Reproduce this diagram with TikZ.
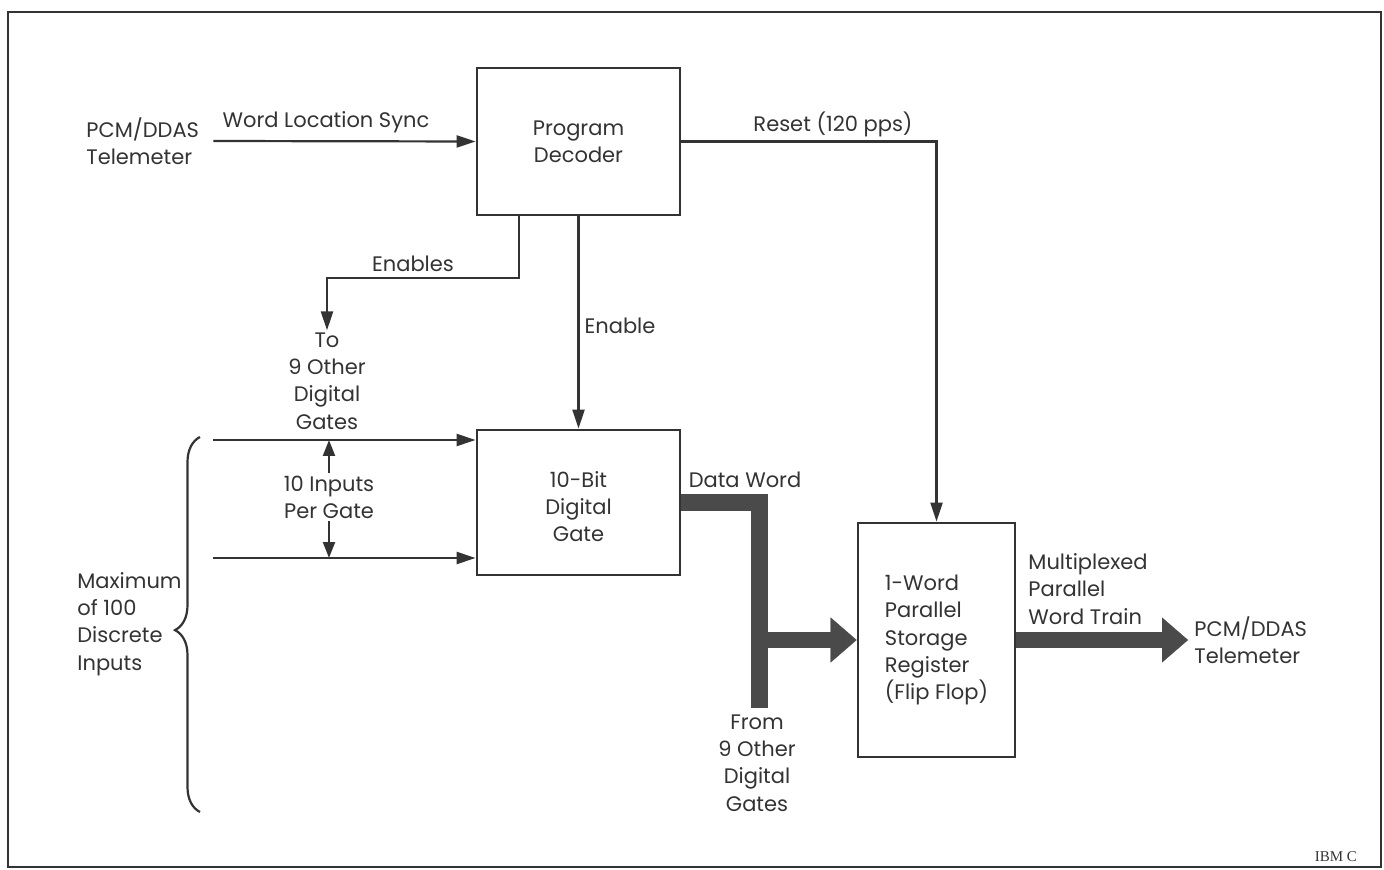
\documentclass[tikz,border=0pt]{standalone}
\usepackage{fontspec}
\setmainfont{Poppins}
\newfontfamily\ibmfont{Liberation Serif}
\usepackage{tikz}
\usetikzlibrary{arrows.meta,positioning,decorations.pathreplacing}
\definecolor{InkGray}{HTML}{333333}
\definecolor{BusGray}{HTML}{4A4A4A}
\newcommand{\diagfont}{\fontsize{10.5}{13.6}\selectfont}
\tikzset{
  blockbox/.style={draw=InkGray,line width=1.4pt,align=center,inner sep=2pt,font=\diagfont,text=InkGray},
  lbl/.style={align=center,inner sep=1pt,font=\diagfont,text=InkGray},
  sigarrow/.style={-{Triangle[length=9.5pt,width=6pt]},line width=1.1pt,draw=InkGray},
  sigline/.style={line width=1.1pt,draw=InkGray},
  dimarrow/.style={-{Triangle[length=8pt,width=6pt]},line width=1.1pt,draw=InkGray},
  busline/.style={line width=8.5pt,draw=BusGray,line cap=butt,line join=miter},
  busarrow/.style={-{Triangle[length=13pt,width=22.5pt,line width=0.1pt]},line width=8pt,draw=BusGray,line cap=butt}
}

\begin{document}
\begin{tikzpicture}[x=0.5pt,y=-0.5pt]
\useasboundingbox (0,0) rectangle (1384,870);
\draw[line width=1.4pt,draw=InkGray] (8,12) rectangle (1381,867);
% blocks
\node[blockbox,minimum width=101.5pt,minimum height=73.5pt] (dec) at (578.5,141.5) {Program\\Decoder};
\node[blockbox,minimum width=101.5pt,minimum height=72.5pt,text height=39pt,text depth=0pt] (gate) at (578.5,502.5) {10-Bit\\Digital\\Gate};
\node[blockbox,minimum width=78.5pt,minimum height=117pt,align=left] (reg) at (936.5,640) {1-Word\\Parallel\\Storage\\Register\\(Flip Flop)};
% texts
\node[lbl,anchor=west,align=left,inner sep=4pt] (pcmIn) at (78,141) {PCM/DDAS\\Telemeter};
\node[lbl] (wls) at (326,122) {Word Location Sync};
\node[lbl] (rst) at (833,124) {Reset (120 pps)};
\node[lbl] (ens) at (413,264) {Enables};
\node[lbl] (en) at (620,326) {Enable};
\node[lbl] (toGates) at (327,381) {To\\9 Other\\Digital\\Gates};
\node[lbl] (perGate) at (329,497) {10 Inputs\\Per Gate};
\node[lbl,anchor=west,align=left] (maxIn) at (75,624) {Maximum\\of 100\\Discrete\\Inputs};
\node[lbl] (dw) at (745,480) {Data Word};
\node[lbl] (fromGates) at (757,763) {From\\9 Other\\Digital\\Gates};
\node[lbl,anchor=west,align=left] (mux) at (1026,589) {Multiplexed\\Parallel\\Word Train};
\node[lbl,anchor=west,align=left,inner sep=3pt] (pcmOut) at (1188,640) {PCM/DDAS\\Telemeter};
\node[font=\ibmfont\fontsize{7.5}{9}\selectfont,text=InkGray,anchor=east] (ibm) at (1364,857) {IBM C};
% control lines
\coordinate (enTurn) at (519,278);
\coordinate (inA) at (213,440);
\coordinate (inB) at (213,558);
\draw[sigarrow,shorten <=3pt] (pcmIn.east) -- (dec.west);
\draw[sigarrow] (dec.east) -| (reg.north);
\draw[sigarrow] (enTurn |- dec.south) -- (enTurn) -| (toGates.north);
\draw[sigarrow] (dec.south) -- (gate.north);
\draw[sigarrow] (inA) -- (inA -| gate.west);
\draw[sigarrow] (inB) -- (inB -| gate.west);
\draw[dimarrow] (perGate.north) -- (perGate.north |- inA);
\draw[dimarrow] (perGate.south) -- (perGate.south |- inB);
\draw[sigline,decorate,decoration={brace,amplitude=12.5pt,aspect=0.485}] (200,812) -- (200,437);
% data bus
\coordinate (busEnd) at (759,708);
\draw[busline] (gate.east) -| (busEnd);
\draw[busarrow] (busEnd |- reg.west) -- (reg.west);
\draw[busarrow] (reg.east) -- (pcmOut.west);
\end{tikzpicture}
\end{document}
